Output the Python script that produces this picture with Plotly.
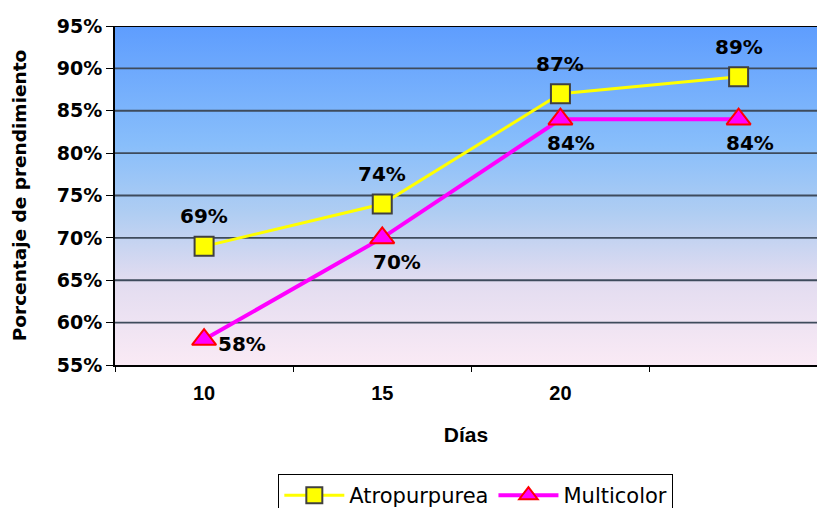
import plotly.graph_objects as go

# Days after grafting and graft take (%) per cultivar
dias = ["10", "15", "20", ""]
atropurpurea = [69, 74, 87, 89]
multicolor = [58, 70, 84, 84]
y_ticks = [55, 60, 65, 70, 75, 80, 85, 90, 95]

pos = list(range(len(dias)))
bounds = [p - 0.5 for p in pos] + [pos[-1] + 0.5]
x_range = [-0.5, 3.44]
y_range = [55, 95]

WIDE = "DejaVu Sans, sans-serif"
ARIAL = "Arial, Liberation Sans, sans-serif"

fig = go.Figure()

# Vertical gradient backdrop filling the plotting area
fig.add_trace(go.Scatter(
    x=[x_range[0], x_range[1], x_range[1], x_range[0], x_range[0]],
    y=[y_range[0], y_range[0], y_range[1], y_range[1], y_range[0]],
    mode="none", fill="toself", hoverinfo="skip", showlegend=False,
    fillgradient=dict(
        type="vertical",
        colorscale=[[0.0, "#FAEAF5"], [0.25, "#E2DCF0"], [0.45, "#AFCDF2"],
                    [0.65, "#88BEFB"], [1.0, "#5E9DFE"]],
    ),
))

# Horizontal gridlines drawn over the backdrop but under the series
grid_x, grid_y = [], []
for t in y_ticks[1:-1]:
    grid_x += [x_range[0], x_range[1], None]
    grid_y += [t, t, None]
fig.add_trace(go.Scatter(
    x=grid_x, y=grid_y, mode="lines", hoverinfo="skip", showlegend=False,
    line=dict(color="#3E4B5C", width=1.8),
))

fig.add_trace(go.Scatter(
    x=pos, y=atropurpurea, name="Atropurpurea", mode="lines+markers",
    line=dict(color="#FFFF00", width=3),
    marker=dict(symbol="square", size=19, color="#FFFF00",
                line=dict(color="#404040", width=2)),
))
fig.add_trace(go.Scatter(
    x=pos, y=multicolor, name="Multicolor", mode="lines+markers",
    line=dict(color="#FF00FF", width=4),
    marker=dict(symbol="triangle-up", size=21, color="#FF00FF",
                line=dict(color="#FF0000", width=2)),
))

# Value labels
label_font = dict(family=WIDE, size=20, color="black", weight="bold")
for p, v in zip(pos, atropurpurea):
    fig.add_annotation(x=p, y=v, text=f"{v}%", showarrow=False,
                       yshift=30, font=label_font)
multi_offsets = [(38, -4), (15, -24), (11, -24), (11, -24)]
for (p, v), (dx, dy) in zip(zip(pos, multicolor), multi_offsets):
    fig.add_annotation(x=p, y=v, text=f"{v}%", showarrow=False,
                       xshift=dx, yshift=dy, font=label_font)

fig.update_layout(
    width=817, height=508,
    margin=dict(l=115, r=0, t=26, b=143, autoexpand=False),
    paper_bgcolor="white", plot_bgcolor="rgba(0,0,0,0)",
    font=dict(family=WIDE, color="black"),
    xaxis=dict(
        range=x_range, tickvals=pos[:3], ticktext=dias[:3], ticks="",
        ticklabelstandoff=9, automargin=False,
        minor=dict(tickvals=bounds, ticks="outside", ticklen=5,
                   tickcolor="black", tickwidth=1, showgrid=False),
        showline=True, linecolor="black", linewidth=2, showgrid=False,
        zeroline=False,
        tickfont=dict(family=ARIAL, size=20, weight="bold"),
        title=dict(text="Días", font=dict(family=ARIAL, size=21, weight="bold"),
                   standoff=24),
    ),
    yaxis=dict(
        range=y_range, tickvals=y_ticks,
        ticktext=[f"{t}%" for t in y_ticks],
        ticks="outside", ticklen=7, tickcolor="black",
        showline=True, linecolor="black", linewidth=2,
        showgrid=False, zeroline=False, automargin=False,
        tickfont=dict(family=WIDE, size=19, weight="bold"),
        title=dict(text="Porcentaje de prendimiento",
                   font=dict(family=WIDE, size=18.5, weight="bold"),
                   standoff=25),
    ),
    legend=dict(
        orientation="h", x=0.514, xanchor="center", y=-0.3215, yanchor="top",
        bordercolor="black", borderwidth=1, bgcolor="white",
        font=dict(family=WIDE, size=21, color="black"),
        itemwidth=60, traceorder="normal",
    ),
    shapes=[dict(type="line", xref="paper", yref="y", x0=0, x1=1,
                 y0=y_range[1], y1=y_range[1],
                 line=dict(color="black", width=2))],
)

fig.write_html("out.html")
